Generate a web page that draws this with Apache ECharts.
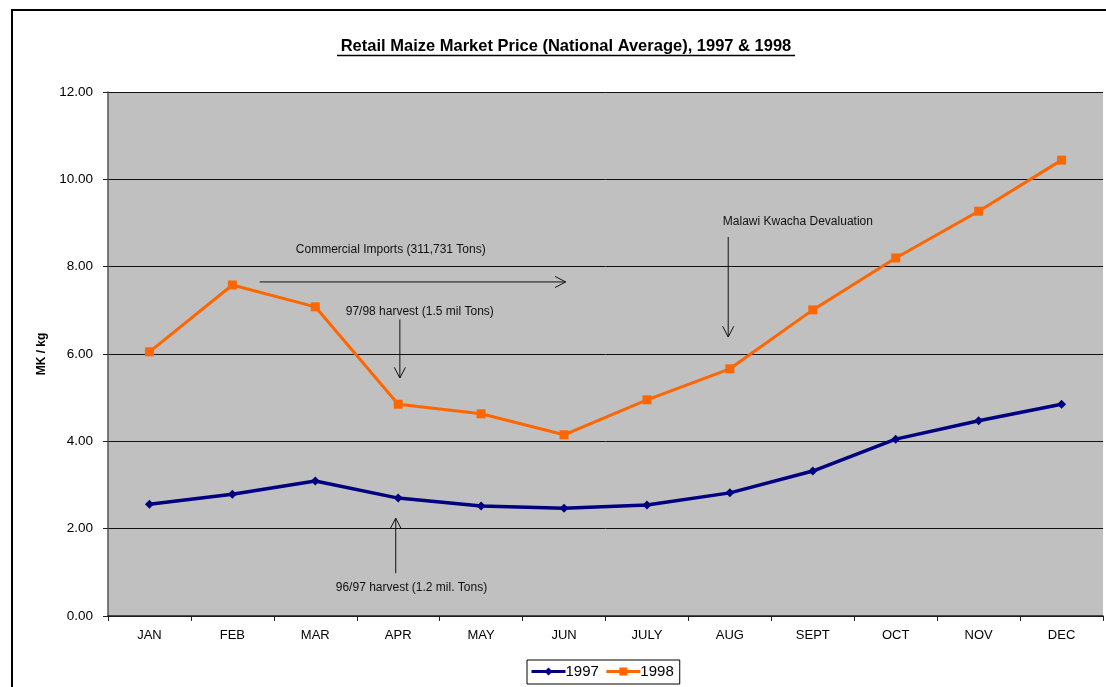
<!DOCTYPE html>
<html>
<head>
<meta charset="utf-8">
<script src="https://cdn.jsdelivr.net/npm/echarts@6/dist/echarts.min.js"></script>
<style>
  html, body { margin: 0; padding: 0; background: #fff; }
  #chart { width: 1106px; height: 687px; }
</style>
</head>
<body>
<div id="chart"></div>
<script>
const months = ['JAN', 'FEB', 'MAR', 'APR', 'MAY', 'JUN', 'JULY', 'AUG', 'SEPT', 'OCT', 'NOV', 'DEC'];
const price1997 = [2.56, 2.79, 3.09, 2.70, 2.52, 2.47, 2.54, 2.82, 3.32, 4.05, 4.47, 4.85];
const price1998 = [6.05, 7.58, 7.08, 4.85, 4.63, 4.15, 4.95, 5.66, 7.01, 8.20, 9.27, 10.44];

// notes: text position and arrow [from, to] in (month index, MK/kg)
const notes = [
  { text: 'Commercial Imports (311,731 Tons)', at: [2.91, 8.38], from: [1.33, 7.65], to: [5.02, 7.65] },
  { text: '97/98 harvest (1.5 mil Tons)', at: [3.26, 6.96], from: [3.02, 6.79], to: [3.02, 5.45] },
  { text: 'Malawi Kwacha Devaluation', at: [7.82, 9.04], from: [6.98, 8.68], to: [6.98, 6.39] },
  { text: '96/97 harvest (1.2 mil. Tons)', at: [3.16, 0.64], from: [2.97, 0.98], to: [2.97, 2.24] }
];

const myChart = echarts.init(document.getElementById('chart'));

const option = {
  backgroundColor: '#fff',
  animation: false,
  textStyle: { fontFamily: 'Liberation Sans, Arial, sans-serif' },
  grid: { left: 108, top: 92, right: 3, bottom: 71, show: true, backgroundColor: '#c0c0c0', borderWidth: 0 },
  legend: {
    left: 527,
    top: 660,
    data: ['1997', '1998'],
    borderColor: '#000',
    borderWidth: 1,
    padding: [4, 6, 5, 3],
    itemGap: 6,
    itemWidth: 34,
    itemHeight: 10,
    lineStyle: { width: 3 },
    textStyle: { fontSize: 15, color: '#000', padding: [0, 0, 0, -5] }
  },
  xAxis: {
    type: 'category',
    data: months,
    axisLine: { lineStyle: { color: '#222', width: 1.5 } },
    axisTick: { show: true, length: 5, lineStyle: { color: '#222' } },
    axisLabel: { color: '#000', fontSize: 13, margin: 13 }
  },
  yAxis: {
    type: 'value',
    min: 0,
    max: 12,
    interval: 2,
    name: 'MK / kg',
    nameLocation: 'middle',
    nameGap: 60,
    nameRotate: 90,
    nameTextStyle: { fontSize: 12, fontWeight: 'bold', color: '#000' },
    axisLine: { show: true, lineStyle: { color: '#555', width: 1.5 } },
    axisTick: { show: true, length: 5, lineStyle: { color: '#222' } },
    axisLabel: { color: '#000', fontSize: 13.5, margin: 15, formatter: v => v.toFixed(2) },
    splitLine: { lineStyle: { color: '#111', width: 1 } }
  },
  series: [
    {
      name: '1997',
      type: 'line',
      data: price1997,
      color: '#000080',
      symbol: 'diamond',
      symbolSize: 9,
      lineStyle: { width: 3.5, color: '#000080' },
      itemStyle: { color: '#000080' }
    },
    {
      name: '1998',
      type: 'line',
      data: price1998,
      color: '#ff6600',
      symbol: 'rect',
      symbolSize: 9,
      lineStyle: { width: 3, color: '#ff6600' },
      itemStyle: { color: '#ff6600' }
    }
  ]
};

myChart.setOption(option);

// category axis rounds indices, so interpolate between neighbouring months
const px = p => {
  const a = myChart.convertToPixel({ gridIndex: 0 }, [0, p[1]]);
  const b = myChart.convertToPixel({ gridIndex: 0 }, [1, p[1]]);
  return [a[0] + (b[0] - a[0]) * p[0], a[1]];
};

const graphics = [
  { type: 'rect', shape: { x: 12, y: 10, width: 1200, height: 800 }, style: { fill: 'none', stroke: '#000', lineWidth: 2 }, silent: true },
  { type: 'text', x: 566, y: 46, style: { text: 'Retail Maize Market Price (National Average), 1997 & 1998', font: 'bold 16.5px Liberation Sans, Arial, sans-serif', fill: '#000', align: 'center', verticalAlign: 'middle' } },
  { type: 'line', shape: { x1: 337, y1: 55.5, x2: 795, y2: 55.5 }, style: { stroke: '#000', lineWidth: 1.3 } }
];

notes.forEach(n => {
  const t = px(n.at);
  const a = px(n.from);
  const b = px(n.to);
  graphics.push({ type: 'text', x: t[0], y: t[1], style: { text: n.text, font: '12px Liberation Sans, Arial, sans-serif', fill: '#111', align: 'center', verticalAlign: 'middle' } });
  graphics.push({ type: 'line', shape: { x1: a[0], y1: a[1], x2: b[0], y2: b[1] }, style: { stroke: '#111', lineWidth: 1 } });
  const ang = Math.atan2(b[1] - a[1], b[0] - a[0]);
  const len = 12, spread = 0.48;
  const p1 = [b[0] - len * Math.cos(ang - spread), b[1] - len * Math.sin(ang - spread)];
  const p2 = [b[0] - len * Math.cos(ang + spread), b[1] - len * Math.sin(ang + spread)];
  graphics.push({ type: 'polyline', shape: { points: [p1, b, p2] }, style: { stroke: '#111', lineWidth: 1, fill: 'none' } });
});

myChart.setOption({ graphic: graphics });
</script>
</body>
</html>
